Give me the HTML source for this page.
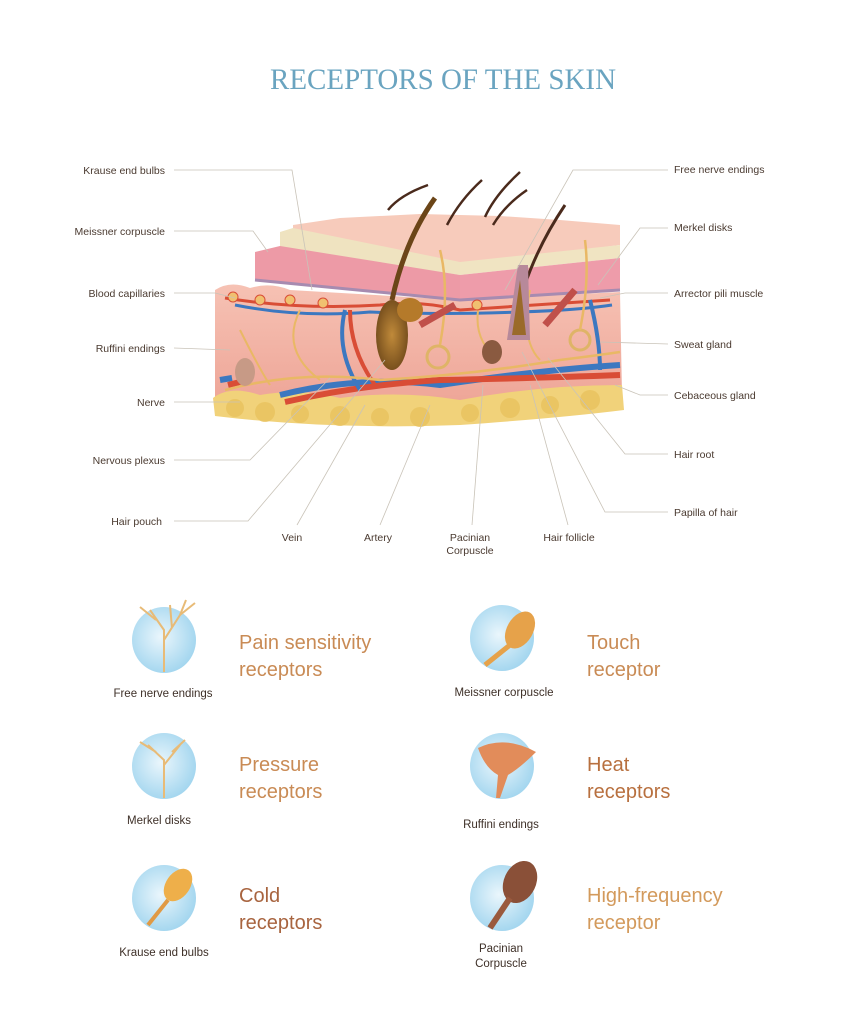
<!DOCTYPE html>
<html><head><meta charset="utf-8"><style>
html,body{margin:0;padding:0;background:#fff;}
svg{display:block;}
.l{font-family:"Liberation Sans",sans-serif;font-size:10.5px;fill:#4a3a30;}
.h{font-family:"Liberation Sans",sans-serif;font-size:20px;}
.c{font-family:"Liberation Sans",sans-serif;font-size:11.5px;fill:#3e3028;}
.ln{stroke:#c9c3b8;stroke-width:0.8;fill:none;}
</style></head><body>
<svg width="841" height="1024" viewBox="0 0 841 1024" xmlns="http://www.w3.org/2000/svg">
<defs>
<radialGradient id="bl" cx="0.45" cy="0.45" r="0.6"><stop offset="0" stop-color="#eaf6fc"/><stop offset="1" stop-color="#9fd4ee"/></radialGradient>
<linearGradient id="derm" x1="0" y1="0" x2="0" y2="1"><stop offset="0" stop-color="#f6c2b4"/><stop offset="1" stop-color="#eea597"/></linearGradient>
<radialGradient id="hr" cx="0.5" cy="0.5" r="0.6"><stop offset="0" stop-color="#c08a3a"/><stop offset="1" stop-color="#6b4518"/></radialGradient>
</defs>
<text x="443" y="89" text-anchor="middle" font-family="Liberation Serif,serif" font-size="30" fill="#6aa4c0" textLength="346" lengthAdjust="spacingAndGlyphs">RECEPTORS OF THE SKIN</text>

<!-- skin block -->
<polygon points="293,225 340,218 420,214 500,216 560,220 620,225 620,245 460,265 293,245" fill="#f7cbbb"/>
<polygon points="280,232 293,228 460,262 460,275 280,250" fill="#efe3c0"/>
<polygon points="460,262 620,245 620,258 460,275" fill="#f0e4c2"/>
<polygon points="255,252 280,246 460,275 460,300 255,280" fill="#ed9aa6"/>
<polygon points="460,275 620,258 620,290 460,300" fill="#ee9caa"/>
<path d="M215,290 Q230,280 250,288 Q270,282 290,290 L460,300 L620,292 L622,395 L460,405 L215,400 Z" fill="url(#derm)"/>
<path d="M255,280 L460,300 L620,290" stroke="#a78bb0" stroke-width="3" fill="none"/>
<path d="M213,398 Q230,385 260,395 Q300,388 340,398 Q400,390 460,400 Q540,385 622,385 L624,410 Q560,418 460,425 Q330,430 215,416 Z" fill="#f1d27a"/>
<g fill="#e9c25e" opacity="0.8">
<circle cx="235" cy="408" r="9"/><circle cx="265" cy="412" r="10"/><circle cx="300" cy="414" r="9"/><circle cx="340" cy="416" r="10"/><circle cx="380" cy="417" r="9"/><circle cx="420" cy="417" r="10"/><circle cx="470" cy="413" r="9"/><circle cx="510" cy="408" r="10"/><circle cx="550" cy="405" r="9"/><circle cx="590" cy="400" r="10"/>
</g>
<!-- vessels -->
<path d="M225,298 Q300,310 380,305 Q420,300 460,310 Q540,305 610,300" stroke="#d94d36" stroke-width="3" fill="none"/>
<path d="M235,305 Q300,318 370,312 Q440,315 520,312 Q580,310 612,305" stroke="#3c78c0" stroke-width="3" fill="none"/>
<path d="M280,395 Q360,375 440,385 Q540,370 620,365" stroke="#3c78c0" stroke-width="6" fill="none"/>
<path d="M285,402 Q360,385 440,380 Q540,378 620,375" stroke="#d94d36" stroke-width="6" fill="none"/>
<path d="M220,380 L232,378" stroke="#3c78c0" stroke-width="6"/><path d="M228,385 L240,382" stroke="#d94d36" stroke-width="6"/>
<path d="M345,310 Q335,350 360,390" stroke="#3c78c0" stroke-width="4" fill="none"/>
<path d="M350,310 Q350,350 375,385" stroke="#d94d36" stroke-width="4" fill="none"/>
<path d="M590,300 Q600,340 600,370" stroke="#3c78c0" stroke-width="4" fill="none"/>
<!-- nerves -->
<path d="M225,390 Q300,370 380,380 Q470,375 560,360 Q600,355 620,352" stroke="#e9b865" stroke-width="2.5" fill="none"/>
<path d="M240,330 Q260,370 270,385 M300,310 Q280,350 320,380 M480,300 Q470,340 500,360 M530,290 Q520,340 540,360" stroke="#e9b865" stroke-width="2" fill="none"/>
<!-- hairs -->
<path d="M388,210 Q400,195 428,185" stroke="#4a2a1c" stroke-width="2.5" fill="none"/>
<path d="M447,225 Q460,200 482,180" stroke="#4a2a1c" stroke-width="2.5" fill="none"/>
<path d="M485,217 Q495,195 520,172" stroke="#4a2a1c" stroke-width="2.5" fill="none"/>
<path d="M493,225 Q505,205 527,190" stroke="#4a2a1c" stroke-width="2.5" fill="none"/>
<path d="M392,300 Q405,240 435,198" stroke="#6b4518" stroke-width="5" fill="none"/>
<ellipse cx="392" cy="335" rx="16" ry="35" fill="url(#hr)"/>
<ellipse cx="410" cy="310" rx="13" ry="12" fill="#b57a2a"/>
<path d="M515,320 Q528,260 565,205" stroke="#4a2a1c" stroke-width="3" fill="none"/>
<path d="M507,340 L518,265 L528,265 L530,340 Z" fill="#b7899a"/>
<path d="M512,335 L520,280 L526,335 Z" fill="#9a6a2a"/>
<ellipse cx="492" cy="352" rx="10" ry="12" fill="#8a5a40"/>
<ellipse cx="245" cy="372" rx="10" ry="14" fill="#c79a86"/>
<circle cx="438" cy="357" r="11" fill="none" stroke="#dfb467" stroke-width="3"/>
<circle cx="580" cy="340" r="10" fill="none" stroke="#dfb467" stroke-width="3"/>
<path d="M440,345 Q450,290 440,250" stroke="#e9b865" stroke-width="2.5" fill="none"/>
<path d="M580,330 Q590,280 585,240" stroke="#e9b865" stroke-width="2.5" fill="none"/>
<path d="M420,325 L455,305" stroke="#c0504a" stroke-width="7"/>
<path d="M545,325 L575,290" stroke="#c0504a" stroke-width="7"/>
<g fill="#f0c070" stroke="#d94d36" stroke-width="1"><circle cx="233" cy="297" r="5"/><circle cx="260" cy="300" r="5"/><circle cx="290" cy="300" r="5"/><circle cx="323" cy="303" r="5"/><circle cx="477" cy="305" r="5"/></g>

<!-- leader lines -->
<g class="ln">
<polyline points="174,170 292,170 312,290"/>
<polyline points="174,231 253,231 268,252"/>
<polyline points="174,293 215,293 235,298"/>
<polyline points="174,348 230,350"/>
<polyline points="174,402 240,402"/>
<polyline points="174,460 250,460 330,378"/>
<polyline points="174,521 248,521 385,360"/>
<polyline points="297,525 365,405"/>
<polyline points="380,525 430,405"/>
<polyline points="472,525 483,385"/>
<polyline points="568,525 530,385"/>
<polyline points="668,170 573,170 505,290"/>
<polyline points="668,228 640,228 598,285"/>
<polyline points="668,293 625,293 600,298"/>
<polyline points="668,344 600,342"/>
<polyline points="668,395 640,395 615,385"/>
<polyline points="668,454 625,454 548,358"/>
<polyline points="668,512 605,512 522,352"/>
</g>
<g class="l">
<text x="165" y="174" text-anchor="end">Krause end bulbs</text>
<text x="165" y="235" text-anchor="end">Meissner corpuscle</text>
<text x="165" y="297" text-anchor="end">Blood capillaries</text>
<text x="165" y="352" text-anchor="end">Ruffini endings</text>
<text x="165" y="406" text-anchor="end">Nerve</text>
<text x="165" y="464" text-anchor="end">Nervous plexus</text>
<text x="162" y="525" text-anchor="end">Hair pouch</text>
<text x="674" y="173">Free nerve endings</text>
<text x="674" y="231">Merkel disks</text>
<text x="674" y="297">Arrector pili muscle</text>
<text x="674" y="348">Sweat gland</text>
<text x="674" y="399">Cebaceous gland</text>
<text x="674" y="458">Hair root</text>
<text x="674" y="516">Papilla of hair</text>
<text x="292" y="541" text-anchor="middle">Vein</text>
<text x="378" y="541" text-anchor="middle">Artery</text>
<text x="470" y="541" text-anchor="middle">Pacinian</text>
<text x="470" y="554" text-anchor="middle">Corpuscle</text>
<text x="569" y="541" text-anchor="middle">Hair follicle</text>
</g>

<!-- bottom icons -->
<g>
<ellipse cx="164" cy="640" rx="32" ry="33" fill="url(#bl)"/>
<path d="M164,672 L164,630 L150,610 M164,640 L180,615 L186,600 M172,628 L170,605 M180,615 L195,603 M156,620 L140,607" stroke="#e8bb77" stroke-width="2" fill="none"/>
<ellipse cx="502" cy="638" rx="32" ry="33" fill="url(#bl)"/>
<ellipse cx="520" cy="630" rx="13" ry="20" transform="rotate(30 520 630)" fill="#e6a24a"/>
<path d="M510,645 L485,665" stroke="#e6a24a" stroke-width="5"/>
<ellipse cx="164" cy="766" rx="32" ry="33" fill="url(#bl)"/>
<path d="M164,798 L164,760 L148,745 M164,765 L180,745 M172,752 L185,740 M156,752 L140,742" stroke="#e8bb77" stroke-width="2" fill="none"/>
<ellipse cx="502" cy="766" rx="32" ry="33" fill="url(#bl)"/>
<path d="M478,748 Q505,735 536,752 Q520,768 508,775 L500,798 L496,798 L498,775 Q485,768 478,748 Z" fill="#e28c5a"/>
<ellipse cx="164" cy="898" rx="32" ry="33" fill="url(#bl)"/>
<ellipse cx="178" cy="885" rx="12" ry="18" transform="rotate(35 178 885)" fill="#eeaf4a"/>
<path d="M168,900 L148,925" stroke="#e09a45" stroke-width="4"/>
<ellipse cx="502" cy="898" rx="32" ry="33" fill="url(#bl)"/>
<ellipse cx="520" cy="882" rx="16" ry="22" transform="rotate(25 520 882)" fill="#8a5038"/>
<path d="M510,898 L490,928" stroke="#9a5a3e" stroke-width="6"/>
</g>
<g class="c" text-anchor="middle">
<text x="163" y="697">Free nerve endings</text>
<text x="504" y="696">Meissner corpuscle</text>
<text x="159" y="824">Merkel disks</text>
<text x="501" y="828">Ruffini endings</text>
<text x="164" y="956">Krause end bulbs</text>
<text x="501" y="952">Pacinian</text>
<text x="501" y="967">Corpuscle</text>
</g>
<g class="h">
<text x="239" y="649" fill="#c98b55">Pain sensitivity</text>
<text x="239" y="676" fill="#c98b55">receptors</text>
<text x="587" y="649" fill="#c98b55">Touch</text>
<text x="587" y="676" fill="#c98b55">receptor</text>
<text x="239" y="771" fill="#c98b55">Pressure</text>
<text x="239" y="798" fill="#c98b55">receptors</text>
<text x="587" y="771" fill="#b8703f">Heat</text>
<text x="587" y="798" fill="#b8703f">receptors</text>
<text x="239" y="902" fill="#a8643f">Cold</text>
<text x="239" y="929" fill="#a8643f">receptors</text>
<text x="587" y="902" fill="#d39a5c">High-frequency</text>
<text x="587" y="929" fill="#d39a5c">receptor</text>
</g>
</svg>
</body></html>
